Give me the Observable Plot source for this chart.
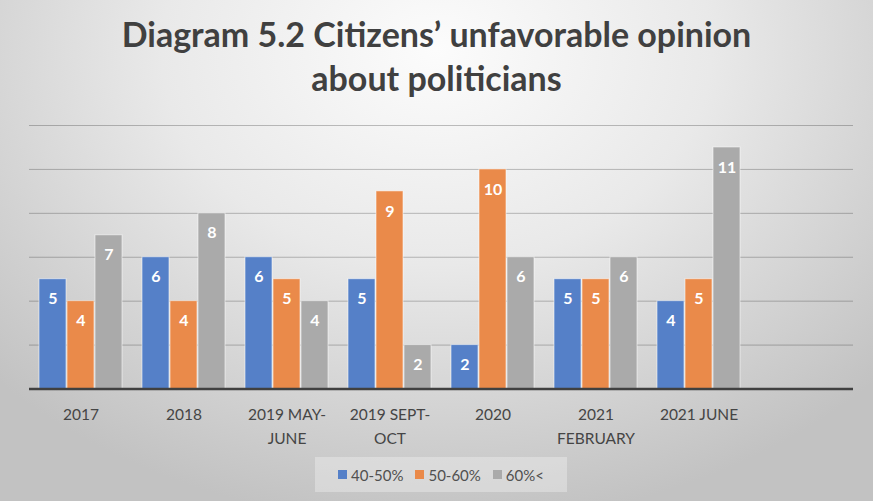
<!DOCTYPE html>
<html><head><meta charset="utf-8">
<script src="https://cdn.jsdelivr.net/npm/d3@7"></script>
<script src="https://cdn.jsdelivr.net/npm/@observablehq/plot@0.6"></script>
<style>
html,body{margin:0;padding:0;}
#wrap{position:relative;width:873px;height:501px;overflow:hidden;
  background:radial-gradient(ellipse 70% 95% at 50% 10%, #fcfcfc 0%, #e9e9e9 45%, #c2c2c2 100%);
  font-family:Lato,"Open Sans",sans-serif;}
#title{position:absolute;left:0;top:12px;width:873px;text-align:center;font-weight:bold;font-size:34px;line-height:44px;color:#404040;}
#chart{position:absolute;left:0;top:100px;}
#legend{position:absolute;left:315px;top:457px;width:252px;height:35px;background:rgba(255,255,255,0.3);
  display:flex;align-items:center;justify-content:center;font-size:15px;color:#505050;}
#legend .item{display:flex;align-items:center;margin:0 6px;}
#legend .sw{width:9px;height:9px;margin-right:4px;}
</style>
</head><body>
<div id="wrap">
  <div id="title">Diagram 5.2 Citizens’ unfavorable opinion<br>about politicians</div>
  <div id="chart"></div>
  <div id="legend"></div>
</div>
<script>
const categories = ["2017","2018","2019 MAY-JUNE","2019 SEPT-OCT","2020","2021 FEBRUARY","2021 JUNE",""];
const tickLabels = ["2017","2018","2019 MAY-\nJUNE","2019 SEPT-\nOCT","2020","2021\nFEBRUARY","2021 JUNE",""];
const series = ["40-50%","50-60%","60%<"];
const s4050 = [5,6,6,5,2,5,4];
const s5060 = [4,4,5,9,10,5,5];
const s60 = [7,8,4,2,6,6,11];
const colors = ["#5580c8","#ea8a4a","#aaaaaa"];
const gridValues = [2,4,6,8,10,12];
const yDomain = [0,12];

const seriesValues = [s4050, s5060, s60];
const rows = [];
seriesValues.forEach((vals, si) => vals.forEach((v, ci) => rows.push({cat: categories[ci], series: series[si], value: v})));
const gridRows = [];
categories.forEach(c => gridValues.forEach(g => gridRows.push({cat: c, v: g})));
const baseRows = categories.map(c => ({cat: c, v: 0}));

const chart = Plot.plot({
  width: 873, height: 350,
  marginTop: 25, marginBottom: 61.5, marginLeft: 26, marginRight: 16,
  style: {fontFamily: "Lato, 'Open Sans', sans-serif", background: "transparent", overflow: "visible"},
  fx: {domain: categories, paddingInner: 0.19, paddingOuter: 0.095, axis: null, label: null},
  x: {domain: series, axis: null, paddingInner: 0.05, paddingOuter: 0},
  y: {domain: yDomain, axis: null},
  color: {domain: series, range: colors},
  marks: [
    Plot.ruleY(gridRows, {fx: "cat", y: "v", stroke: "#000", strokeOpacity: 0.24, strokeWidth: 1, insetLeft: -10, insetRight: -10}),
    Plot.barY(rows, {fx: "cat", x: "series", y: "value", fill: "series", stroke: "rgba(255,255,255,0.55)", strokeWidth: 1}),
    Plot.text(rows, {fx: "cat", x: "series", y: "value", text: "value", dy: 20, fill: "white", fontWeight: "bold", fontSize: 16}),
    Plot.ruleY(baseRows, {fx: "cat", y: "v", stroke: "#404040", strokeWidth: 2.5, insetLeft: -10, insetRight: -10}),
    Plot.axisFx({anchor: "bottom", tickSize: 0, tickPadding: 14, fontSize: 15.5, color: "#454545", lineHeight: 1.55,
      tickFormat: d => tickLabels[categories.indexOf(d)], label: null})
  ]
});
document.getElementById("chart").appendChild(chart);

const legend = document.getElementById("legend");
series.forEach((s, i) => {
  const it = document.createElement("div"); it.className = "item";
  const sw = document.createElement("div"); sw.className = "sw"; sw.style.background = colors[i];
  const t = document.createElement("span"); t.textContent = s;
  it.appendChild(sw); it.appendChild(t); legend.appendChild(it);
});
</script>
</body></html>
